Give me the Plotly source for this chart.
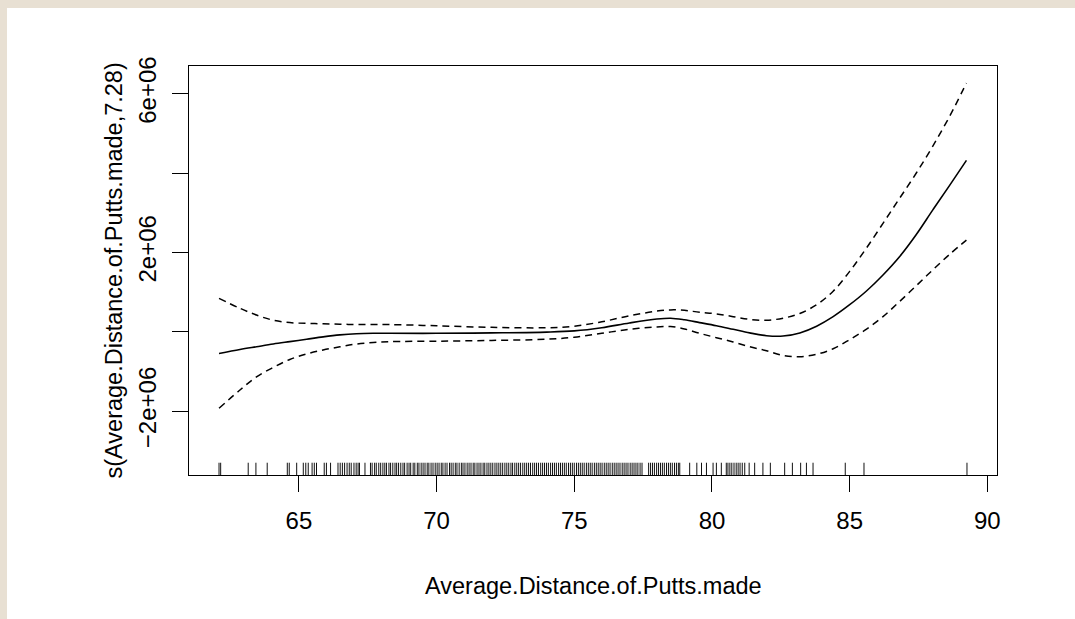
import plotly.graph_objects as go

# ---- data ----
x_grid = [62.1, 62.86, 63.46, 64.07, 64.67, 65.28, 65.88, 66.49, 67.09, 67.7, 68.3,
          70.0, 72.0, 74.0, 75.0, 76.0, 77.0, 78.0, 78.5, 79.0, 79.55, 80.16, 80.77,
          81.37, 81.98, 82.58, 83.19, 83.8, 84.4, 85.0, 85.6, 86.21, 86.81, 87.42,
          88.02, 88.63, 89.24]
fit = [-0.55, -0.45, -0.38, -0.31, -0.25, -0.19, -0.13, -0.08, -0.05, -0.04, -0.04,
       -0.04, -0.03, -0.01, 0.02, 0.10, 0.22, 0.32, 0.34, 0.30, 0.23, 0.15, 0.06,
       -0.03, -0.10, -0.11, -0.03, 0.14, 0.38, 0.68, 1.02, 1.43, 1.89, 2.45,
       3.07, 3.69, 4.32]
upper = [0.84, 0.59, 0.42, 0.29, 0.23, 0.21, 0.20, 0.19, 0.18, 0.18, 0.18,
         0.15, 0.11, 0.10, 0.14, 0.25, 0.40, 0.52, 0.55, 0.54, 0.49, 0.45, 0.38,
         0.31, 0.29, 0.34, 0.46, 0.68, 1.02, 1.52, 2.10, 2.73, 3.36, 4.00,
         4.68, 5.43, 6.27]
lower = [-1.93, -1.47, -1.14, -0.90, -0.70, -0.56, -0.46, -0.38, -0.31, -0.27, -0.25,
         -0.24, -0.22, -0.19, -0.14, -0.04, 0.06, 0.12, 0.13, 0.07, -0.04, -0.15, -0.26,
         -0.38, -0.48, -0.60, -0.63, -0.57, -0.43, -0.20, 0.06, 0.38, 0.76, 1.16,
         1.56, 1.95, 2.31]
scale = 1e6

rug_x = [62.1, 62.16, 63.16, 63.44, 63.85, 64.58, 64.65, 64.92, 65.16, 65.25, 65.34,
         65.48, 65.56, 65.64, 65.92, 66.0, 66.15, 66.42, 66.5, 66.58, 66.66, 66.75,
         66.83, 66.9, 67.0, 67.08, 67.15, 67.2, 67.4,
         67.6, 67.66, 67.75, 67.81, 67.9, 67.97, 68.05, 68.12, 68.18, 68.27, 68.33,
         68.41, 68.49, 68.55, 68.62, 68.7, 68.78, 68.84, 68.93, 69.0, 69.06, 69.15,
         69.21, 69.3, 69.36, 69.44, 69.51, 69.58, 69.66, 69.72, 69.8, 69.87, 69.95,
         70.02, 70.09, 70.17, 70.23, 70.31, 70.38, 70.47, 70.53, 70.6, 70.68, 70.74,
         70.82, 70.9, 70.96, 71.03, 71.11, 71.18, 71.25, 71.33, 71.39, 71.47, 71.54,
         71.61, 71.69, 71.75, 71.83, 71.9, 71.97, 72.04, 72.12, 72.19, 72.26, 72.33,
         72.4, 72.48, 72.55, 72.62, 72.7, 72.76, 72.84, 72.91, 72.98, 73.05, 73.13,
         73.2, 73.27, 73.34, 73.41, 73.49, 73.56, 73.63, 73.7, 73.78, 73.85, 73.92,
         73.99, 74.06, 74.14, 74.21, 74.28, 74.35, 74.43, 74.5, 74.57, 74.64, 74.71,
         74.79, 74.86, 74.93, 75.0, 75.08, 75.15, 75.22, 75.29, 75.36, 75.44, 75.51,
         75.58, 75.65, 75.73, 75.8, 75.87, 75.94, 76.01, 76.09, 76.16, 76.23, 76.3,
         76.38, 76.45, 76.52, 76.59, 76.66, 76.74, 76.81, 76.88, 76.95, 77.03, 77.1,
         77.17, 77.24, 77.31, 77.39, 77.46, 77.7, 77.77, 77.84, 77.91, 77.99, 78.06,
         78.13, 78.2, 78.27, 78.35, 78.42, 78.49, 78.56, 78.64, 78.71, 78.78, 78.83,
         79.19, 79.45, 79.62, 79.8, 80.04, 80.16, 80.34, 80.52, 80.58, 80.65, 80.72,
         80.8, 80.88, 80.95, 81.02, 81.1, 81.19, 81.35, 81.55, 81.85, 82.12, 82.64,
         82.92, 83.22, 83.43, 83.67, 84.84, 85.52, 89.26]

x_ticks = [65, 70, 75, 80, 85, 90]
y_tickvals = [-2e6, 0, 2e6, 4e6, 6e6]
y_ticktext = ["\u22122e+06", "", "2e+06", "", "6e+06"]

x_range = [61.01, 90.35]
y_range = [-3.612e6, 6.698e6]

FONT = "Liberation Sans, Arial, Helvetica, sans-serif"

fig = go.Figure()

fig.add_trace(go.Scatter(x=x_grid, y=[v * scale for v in fit], mode="lines",
                         line=dict(color="black", width=1.6, shape="spline", smoothing=1.0),
                         showlegend=False, hoverinfo="skip"))
for band in (upper, lower):
    fig.add_trace(go.Scatter(x=x_grid, y=[v * scale for v in band], mode="lines",
                             line=dict(color="black", width=1.5, dash="7px,5px",
                                       shape="spline", smoothing=1.0),
                             showlegend=False, hoverinfo="skip"))

# rug along the bottom of the plot region
rug_top = y_range[0] + 0.03 * (y_range[1] - y_range[0])
rx, ry = [], []
for v in rug_x:
    rx += [v, v, None]
    ry += [y_range[0], rug_top, None]
fig.add_trace(go.Scatter(x=rx, y=ry, mode="lines",
                         line=dict(color="#111111", width=1),
                         showlegend=False, hoverinfo="skip"))

L, R, T, B = 189, 78, 66, 144
W, H = 1075, 619
pw, ph = W - L - R, H - T - B

# white page panel on beige background
fig.add_shape(type="rect", xref="paper", yref="paper",
              x0=(7 - L) / pw, x1=(W + 5 - L) / pw,
              y0=-(B + 5) / ph, y1=(H - 8 - B) / ph,
              fillcolor="white", line=dict(width=0), layer="below")

fig.update_layout(
    width=W, height=H,
    margin=dict(l=L, r=R, t=T, b=B, pad=0),
    paper_bgcolor="#e8e0d3",
    plot_bgcolor="rgba(0,0,0,0)",
    font=dict(family=FONT, size=24, color="black"),
    showlegend=False,
)
fig.update_xaxes(range=x_range, tickvals=x_ticks, ticks="outside", ticklen=16,
                 tickwidth=1, tickcolor="black", showgrid=False, zeroline=False,
                 showline=True, linecolor="black", linewidth=1.2, mirror=True,
                 ticklabelstandoff=8, tickfont=dict(size=24))
fig.update_yaxes(range=y_range, tickvals=y_tickvals, ticktext=y_ticktext,
                 ticks="outside", ticklen=16, tickwidth=1, tickcolor="black",
                 showgrid=False, zeroline=False, showline=True, linecolor="black",
                 linewidth=1.2, mirror=True, tickangle=-90, ticklabelstandoff=6,
                 tickfont=dict(size=24))

fig.add_annotation(text="Average.Distance.of.Putts.made", xref="paper", yref="paper",
                   x=0.5, y=(475 - 586) / ph, xanchor="center", yanchor="middle",
                   showarrow=False, font=dict(size=23.5))
fig.add_annotation(text="s(Average.Distance.of.Putts.made,7.28)", xref="paper", yref="paper",
                   x=(113 - L) / pw, y=0.5, xanchor="center", yanchor="middle",
                   textangle=-90, showarrow=False, font=dict(size=23.5))

fig.write_html("out.html", config={"displayModeBar": False},
               post_script="document.body.style.margin='0';document.body.style.overflow='hidden';")
